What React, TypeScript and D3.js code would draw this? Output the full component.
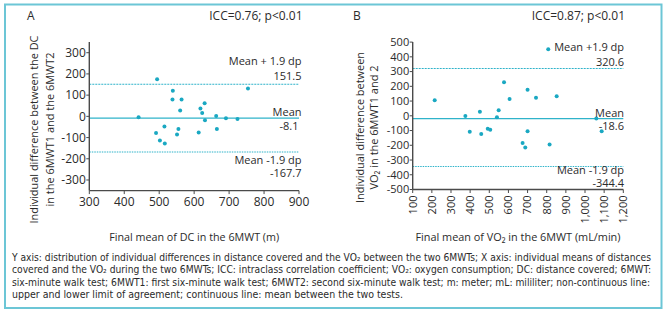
import React from "react";
import * as d3 from "d3";

// ---------- data ----------
const dcMean = [441, 491, 494, 502, 515, 516, 538, 539, 551, 555, 560, 564, 613, 618, 623, 630, 631, 663, 665, 691, 724, 754];
const dcDiff = [-4, -79, 175, -114, -48, -128, 79, 121, -85, -60, 28, 79, -76, 37, 16, 62, -18, 2, -60, -9, -12, 131];

const vo2Mean = [215, 375, 398, 451, 458, 492, 505, 540, 549, 577, 606, 674, 688, 700, 700, 744, 808, 815, 852, 1059, 1087];
const vo2Diff = [105, -2, -109, 27, -124, -88, -95, -9, 37, 227, 114, -184, -215, 177, -104, 122, 452, -195, 132, -18, -104];

const limitsA = { upper: 151.5, mean: -8.1, lower: -167.7 };
const limitsB = { upper: 320.6, mean: -18.6, lower: -344.4 };

const xTicksA = [300, 400, 500, 600, 700, 800, 900];
const yTicksA = [-300, -200, -100, 0, 100, 200, 300];
const xTicksB = [100, 200, 300, 400, 500, 600, 700, 800, 900, 1000, 1100, 1200];
const yTicksB = [-500, -400, -300, -200, -100, 0, 100, 200, 300, 400, 500];

const captionLines = [
  "Y axis: distribution of individual differences in distance covered and the VO₂ between the two 6MWTs; X axis: individual means of distances",
  "covered and the VO₂ during the two 6MWTs; ICC: intraclass correlation coefficient; VO₂: oxygen consumption; DC: distance covered; 6MWT:",
  "six-minute walk test; 6MWT1: first six-minute walk test; 6MWT2: second six-minute walk test; m: meter; mL: mililiter; non-continuous line:",
  "upper and lower limit of agreement; continuous line: mean between the two tests.",
];

// ---------- style ----------
const FONT = "'Open Sans', 'Noto Sans', sans-serif";
const NARROW = "'Liberation Sans Narrow', 'DejaVu Sans Condensed', 'Open Sans', sans-serif";
const TEAL = "#1aa8c2";
const LINE = "#2fb3ca";
const BORDER = "#6cc6d6";
const AXIS = "#4a4a4a";
const TEXT = "#2b2b2b";

let measureCtx: CanvasRenderingContext2D | null = null;
function measure(text: string, size: number, family: string): number {
  if (typeof document === "undefined") return text.length * size * 0.42;
  if (!measureCtx) measureCtx = document.createElement("canvas").getContext("2d");
  if (!measureCtx) return text.length * size * 0.42;
  measureCtx.font = `${size}px ${family}`;
  return measureCtx.measureText(text).width;
}

type PanelProps = {
  xs: number[];
  ys: number[];
  limits: { upper: number; mean: number; lower: number };
  x: d3.ScaleLinear<number, number>;
  y: d3.ScaleLinear<number, number>;
  xTicks: number[];
  yTicks: number[];
  tickSize: number;
  rotateX: boolean;
  letter: string;
  letterX: number;
  icc: string;
  upperText: string;
  labelRight: number;
  offs: number[]; // baseline offsets of the six limit labels
  yLabel: [string, string];
  yLabelX: [number, number];
  yLabelLen: [number, number];
  yLabelCenter: number;
  xLabel: string;
  xLabelLen: number;
};

function Panel(p: PanelProps) {
  const [x0, x1] = p.x.range();
  const [yb, yt] = p.y.range();
  const fmt = d3.format(",");
  const yUp = p.y(p.limits.upper);
  const yMean = p.y(p.limits.mean);
  const yLow = p.y(p.limits.lower);
  const xc = (x0 + x1) / 2;
  const o = p.offs;
  return (
    <g fontFamily={FONT} fill={TEXT}>
      <text x={p.letterX} y={19.5} fontSize={12}>{p.letter}</text>
      <text x={p.labelRight + 1} y={19.5} fontSize={12} textAnchor="end">{p.icc}</text>

      {/* limit lines */}
      <line x1={x0} x2={x1} y1={yUp} y2={yUp} stroke={LINE} strokeWidth={1.1} strokeDasharray="2,1" />
      <line x1={x0} x2={x1} y1={yLow} y2={yLow} stroke={LINE} strokeWidth={1.1} strokeDasharray="1.5,1" />
      <line x1={x0} x2={x1} y1={yMean} y2={yMean} stroke={LINE} strokeWidth={1.3} />

      {/* axes */}
      <line x1={x0} x2={x0} y1={yt} y2={yb} stroke={AXIS} strokeWidth={1.4} />
      <line x1={x0} x2={x1} y1={yb} y2={yb} stroke={AXIS} strokeWidth={1.4} />
      {p.yTicks.map((t) => (
        <g key={"y" + t}>
          <line x1={x0 - 3} x2={x0} y1={p.y(t)} y2={p.y(t)} stroke={AXIS} strokeWidth={1} />
          <text x={x0 - 3.5} y={p.y(t)} dy="0.35em" fontSize={p.tickSize} textAnchor="end">{String(t)}</text>
        </g>
      ))}
      {p.xTicks.map((t) => (
        <g key={"x" + t}>
          <line x1={p.x(t)} x2={p.x(t)} y1={yb} y2={yb + 3.5} stroke={AXIS} strokeWidth={1} />
          {p.rotateX ? (
            <text transform={`translate(${p.x(t)},${yb + 6}) rotate(-90)`} dy="0.35em" fontSize={p.tickSize} textAnchor="end">{fmt(t)}</text>
          ) : (
            <text x={p.x(t)} y={yb + 15} fontSize={p.tickSize} textAnchor="middle">{fmt(t)}</text>
          )}
        </g>
      ))}

      {/* points */}
      {p.xs.map((v, i) => (
        <circle key={i} cx={p.x(v)} cy={p.y(p.ys[i])} r={2} fill={TEAL} />
      ))}

      {/* limit labels */}
      <g fontSize={11} textAnchor="end">
        <text x={p.labelRight} y={yUp + o[0]}>{p.upperText}</text>
        <text x={p.labelRight} y={yUp + o[1]}>{String(p.limits.upper)}</text>
        <text x={p.labelRight} y={yMean + o[2]}>Mean</text>
        <text x={p.labelRight - (p.letter === "A" ? 3 : 0)} y={yMean + o[3]}>{String(p.limits.mean)}</text>
        <text x={p.labelRight} y={yLow + o[4]}>Mean -1.9 dp</text>
        <text x={p.labelRight} y={yLow + o[5]}>{String(p.limits.lower)}</text>
      </g>

      {/* axis titles */}
      <g fontSize={11.5}>
        {p.yLabel.map((l, i) => (
          <text key={i} transform={`translate(${p.yLabelX[i]},${p.yLabelCenter}) rotate(-90)`} textAnchor="middle" dy="0.35em"
            textLength={p.yLabelLen[i]} lengthAdjust="spacingAndGlyphs">{l}</text>
        ))}
        <text x={xc} y={241} textAnchor="middle" textLength={p.xLabelLen} lengthAdjust="spacingAndGlyphs">{p.xLabel}</text>
      </g>
    </g>
  );
}

export default function App() {
  const W = 667, H = 312;
  const xA = d3.scaleLinear().domain([300, 900]).range([89.3, 299]);
  const yA = d3.scaleLinear().domain([-350, 350]).range([190.6, 42.1]);
  const xB = d3.scaleLinear().domain([100, 1200]).range([412.7, 623.3]);
  const yB = d3.scaleLinear().domain([-500, 500]).range([189.5, 42.1]);

  const captionTargets = [639, 639, 638, 391];

  return (
    <svg width={W} height={H} viewBox={`0 0 ${W} ${H}`} style={{ position: "absolute", left: 0, top: 0, background: "#fff" }}>
      <rect x={0} y={0} width={W} height={H} fill="#fff" />
      <rect x={5} y={4.5} width={656.5} height={303.5} fill="none" stroke={BORDER} strokeWidth={2} />
      <Panel xs={dcMean} ys={dcDiff} limits={limitsA} x={xA} y={yA} xTicks={xTicksA} yTicks={yTicksA} tickSize={12}
        rotateX={false} letter="A" letterX={27} icc="ICC=0.76; p<0.01" upperText="Mean + 1.9 dp" labelRight={301.5}
        offs={[-19, -4, -2, 11.5, 12, 25]}
        yLabel={["Individual difference between the DC", "in the 6MWT1 and the 6MWT2"]} yLabelX={[33.5, 49.5]} yLabelLen={[188, 154]} yLabelCenter={129.5}
        xLabel="Final mean of DC in the 6MWT (m)" xLabelLen={170} />
      <Panel xs={vo2Mean} ys={vo2Diff} limits={limitsB} x={xB} y={yB} xTicks={xTicksB} yTicks={yTicksB} tickSize={11}
        rotateX={true} letter="B" letterX={353} icc="ICC=0.87; p<0.01" upperText="Mean +1.9 dp" labelRight={624}
        offs={[-17.5, -3, -2, 11.5, 7.5, 20.5]}
        yLabel={["Individual difference between", "VO₂ in the 6MWT1 and 2"]} yLabelX={[359.5, 373.5]} yLabelLen={[151, 124]} yLabelCenter={127.5}
        xLabel="Final mean of VO₂ in the 6MWT (mL/min)" xLabelLen={205} />
      <g fontFamily={NARROW} fill={TEXT}>
        {captionLines.map((l, i) => {
          const natural = measure(l, 11, NARROW);
          const size = natural > captionTargets[i] ? Math.max(9.5, (11 * captionTargets[i]) / natural) : 11;
          return (
            <text key={i} x={12} y={260.5 + i * 12.6} fontSize={size} textLength={captionTargets[i]} lengthAdjust="spacingAndGlyphs">{l}</text>
          );
        })}
      </g>
    </svg>
  );
}
